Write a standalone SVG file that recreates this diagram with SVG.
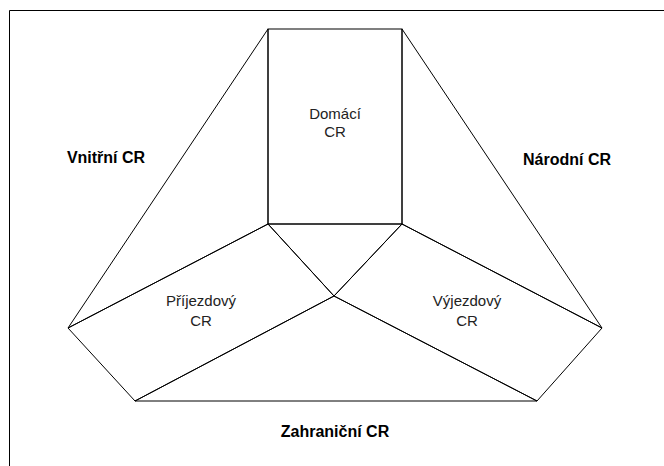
<svg xmlns="http://www.w3.org/2000/svg" width="664" height="466" viewBox="0 0 664 466">
<style>
.r{fill:none;stroke:#000;stroke-width:1}
.t{font-family:"Liberation Sans",Arial,sans-serif;font-size:15px;fill:#222;text-anchor:middle}
.b{font-family:"Liberation Sans",Arial,sans-serif;font-size:16px;font-weight:bold;fill:#000;text-anchor:middle}
</style>
<rect x="0" y="0" width="664" height="466" fill="#fff"/>
<path d="M9.5,470 V10.5 H670" fill="none" stroke="#000" stroke-width="1"/>
<g id="domaci">
<rect class="r" x="268" y="29" width="134" height="195"/>
<text class="t" x="335" y="119">Domácí</text>
<text class="t" x="335" y="137">CR</text>
</g>
<g id="vnitrni">
<polygon class="r" points="268,29 268,224 68,328"/>
<text class="b" x="106" y="163">Vnitřní CR</text>
</g>
<g id="narodni">
<polygon class="r" points="402,29 602,328 402,224"/>
<text class="b" x="567" y="165">Národní CR</text>
</g>
<g id="prijezdovy">
<polygon class="r" points="68,328 268,224 334,296 135,401"/>
<text class="t" x="201" y="306">Příjezdový</text>
<text class="t" x="201" y="326">CR</text>
</g>
<g id="vyjezdovy">
<polygon class="r" points="402,224 602,328 537,401 334,296"/>
<text class="t" x="467" y="306">Výjezdový</text>
<text class="t" x="467" y="326">CR</text>
</g>
<g id="zahranicni">
<polygon class="r" points="135,401 334,296 537,401"/>
<text class="b" x="335" y="437">Zahraniční CR</text>
</g>
<g id="connectors">
<polygon class="r" points="268,224 402,224 334,296"/>
</g>
</svg>
